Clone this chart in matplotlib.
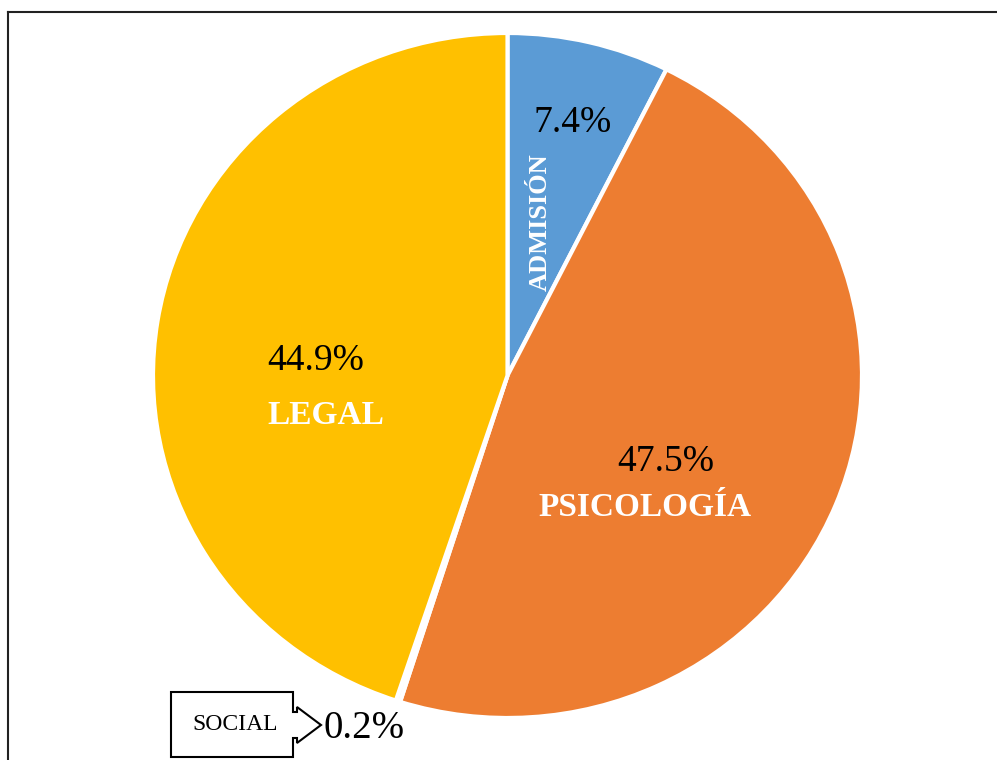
import matplotlib.pyplot as plt
from matplotlib.patches import Polygon
from matplotlib.lines import Line2D

plt.rcParams["font.family"] = ["Liberation Serif", "DejaVu Serif"]

# data
areas = ["ADMISIÓN", "PSICOLOGÍA", "SOCIAL", "LEGAL"]
shares = [7.4, 47.5, 0.2, 44.9]
colors = ["#5B9BD5", "#ED7D31", "#EDEDED", "#FFC000"]

W, H = 997, 760
fig = plt.figure(figsize=(W / 100, H / 100), dpi=100)

# pie lives in its own axes covering the (slightly elliptical) pie bounding box
left, right, top, bottom = 153, 862, 33, 718
ax_pie = fig.add_axes([left / W, 1 - bottom / H, (right - left) / W, (bottom - top) / H])
ax_pie.pie(
    shares,
    colors=colors,
    startangle=90,
    counterclock=False,
    radius=1,
    wedgeprops=dict(edgecolor="white", linewidth=3),
)
ax_pie.set_aspect("auto")
ax_pie.set_xlim(-1, 1)
ax_pie.set_ylim(-1, 1)
ax_pie.axis("off")

# overlay axes in pixel units for labels and decorations
ax = fig.add_axes([0, 0, 1, 1])
ax.set_xlim(0, W)
ax.set_ylim(H, 0)
ax.axis("off")

pct_style = dict(fontsize=27, color="black", ha="center", va="center")
ax.text(573, 123, f"{shares[0]}%", **pct_style)
ax.text(666, 462, f"{shares[1]}%", **pct_style)
ax.text(316, 361, f"{shares[3]}%", **pct_style)
ax.text(364, 729, f"{shares[2]}%", fontsize=28, color="black", ha="center", va="center")

ax.text(540, 222, areas[0], fontsize=19, fontweight="bold", color="white",
        rotation=90, ha="center", va="center")
ax.text(645, 508, areas[1], fontsize=24, fontweight="bold", color="white",
        ha="center", va="center")
ax.text(326, 416, areas[3], fontsize=24, fontweight="bold", color="white",
        ha="center", va="center")

# callout box for SOCIAL
callout = [(171, 692), (293, 692), (293, 712), (297, 712), (297, 707), (321, 725),
           (297, 743), (297, 738), (293, 738), (293, 757), (171, 757)]
ax.add_patch(Polygon(callout, closed=True, facecolor="white", edgecolor="black",
                     linewidth=1.5, zorder=3))
ax.text(235, 724, areas[2], fontsize=17, color="black", ha="center", va="center", zorder=4)

# outer frame (runs off the right and bottom edges)
fig.add_artist(Line2D([8 / W, 8 / W], [0, 1 - 12 / H], color="#222222", linewidth=1.5))
fig.add_artist(Line2D([8 / W, 1], [1 - 12 / H, 1 - 12 / H], color="#222222", linewidth=1.5))

fig.savefig("out.png", dpi=100)
